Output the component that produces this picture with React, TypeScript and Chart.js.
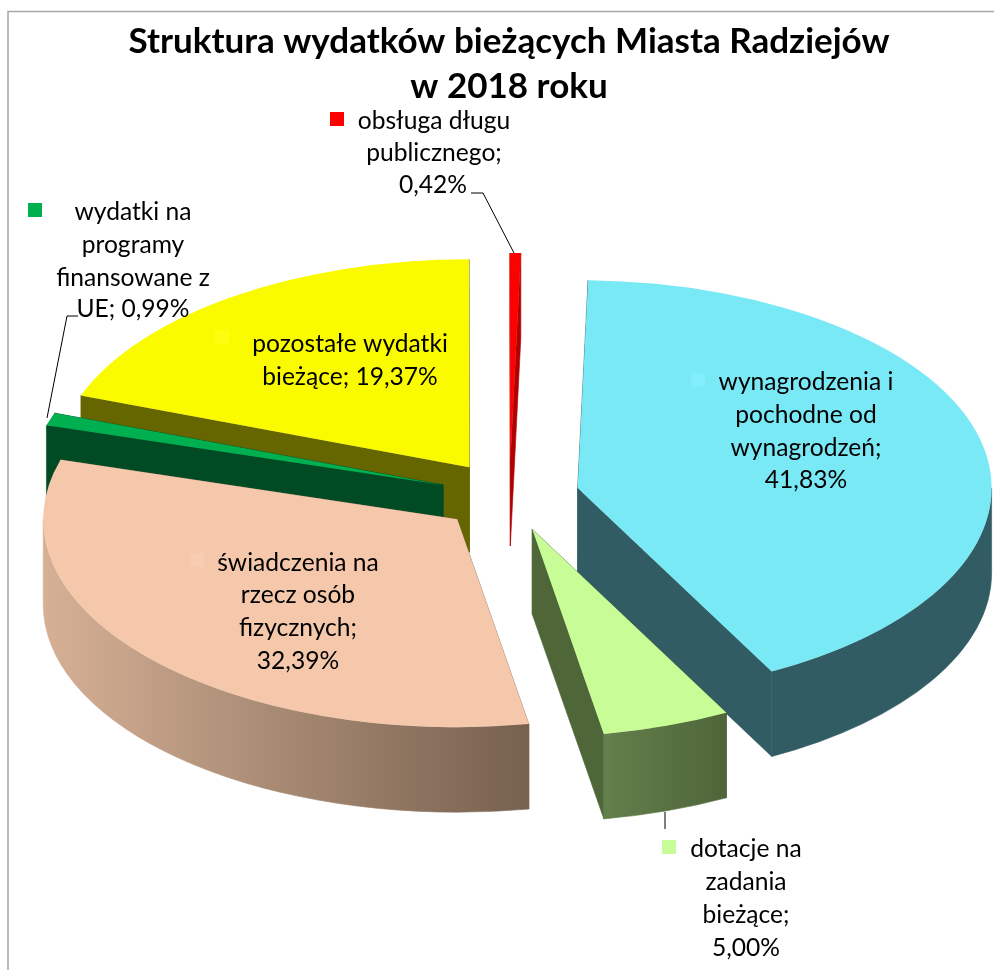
import React, { useEffect, useRef } from "react";
import { Chart, registerables } from "chart.js";

Chart.register(...registerables);

const categories = [
  "wynagrodzenia i pochodne od wynagrodzeń",
  "dotacje na zadania bieżące",
  "świadczenia na rzecz osób fizycznych",
  "wydatki na programy finansowane z UE",
  "pozostałe wydatki bieżące",
  "obsługa długu publicznego",
];
const shares = [41.83, 5.0, 32.39, 0.99, 19.37, 0.42];
const topColors = ["#7AE9F6", "#C8FC96", "#F5C8AB", "#00B050", "#FBFB00", "#FF0000"];
const cutColors = ["#315C64", "#4E6638", "#8A7060", "#004A24", "#666600", "#B00000"];
const rimStart = ["#315C64", "#637F4B", "#D6B095", "#004A24", "#666600", "#B00000"];
const rimEnd = ["#315C64", "#4F6539", "#76614F", "#004A24", "#666600", "#B00000"];
const titleLines = ["Struktura wydatków bieżących Miasta Radziejów", "w 2018 roku"];

// painter's order of the slices, back to front
const paintOrder = [5, 4, 3, 2, 0, 1];

// pie projection
const centerX = 509.5;
const centerY = 496;
const radiusX = 414;
const tilt = 0.502;
const depth = 85;
const explode = 70;
const startDeg = 1.45;

const labelFont = "24.6px Lato, 'Noto Sans', sans-serif";
const labelBlocks = [
  { idx: 0, key: [691, 373], keyColor: "#80EEFB", lines: [["wynagrodzenia i", 806, 390], ["pochodne od", 806, 423], ["wynagrodzeń;", 806, 456], ["41,83%", 806, 488]] },
  { idx: 1, key: [662, 840], keyColor: "#C8FC96", lines: [["dotacje na", 746, 857], ["zadania", 746, 890], ["bieżące;", 746, 923], ["5,00%", 746, 956]] },
  { idx: 2, key: [190, 553], keyColor: "#F7CDB2", lines: [["świadczenia na", 298, 571], ["rzecz osób", 298, 603], ["fizycznych;", 298, 636], ["32,39%", 298, 669]] },
  { idx: 3, key: [28, 203], keyColor: "#00B050", lines: [["wydatki na", 133, 220], ["programy", 133, 253], ["finansowane z", 133, 286], ["UE; 0,99%", 133, 317]] },
  { idx: 4, key: [215, 330], keyColor: "#FDFD10", lines: [["pozostałe wydatki", 350, 352], ["bieżące; 19,37%", 350, 385]] },
  { idx: 5, key: [330, 112], keyColor: "#FF0000", lines: [["obsługa długu", 434, 129], ["publicznego;", 434, 161], ["0,42%", 433, 193]] },
];
const keySize = 14;
const leaderLines = [
  [[471, 193], [483, 193], [514, 253]],
  [[78, 316], [67, 316], [47, 418]],
  [[665, 812], [665, 829]],
];

const pie3d = {
  id: "pie3d",
  beforeDatasetDraw() {
    return false;
  },
  afterDatasetsDraw(chart: any) {
    const ctx = chart.ctx;
    const arcs = chart.getDatasetMeta(0).data;
    for (const i of paintOrder) {
      const arc = arcs[i];
      const { x, y, startAngle, endAngle, outerRadius: r } = arc;
      const mid = (startAngle + endAngle) / 2;
      const D = depth / tilt;
      ctx.save();
      ctx.translate(centerX, centerY);
      ctx.scale(1, tilt);
      ctx.translate(-x + Math.cos(mid) * explode, -y + Math.sin(mid) * explode);
      ctx.lineWidth = 0.8;
      // cut faces
      ctx.fillStyle = cutColors[i];
      ctx.strokeStyle = cutColors[i];
      for (const a of [startAngle, endAngle]) {
        ctx.beginPath();
        ctx.moveTo(x, y);
        ctx.lineTo(x + Math.cos(a) * r, y + Math.sin(a) * r);
        ctx.lineTo(x + Math.cos(a) * r, y + Math.sin(a) * r + D);
        ctx.lineTo(x, y + D);
        ctx.closePath();
        ctx.fill();
        ctx.stroke();
      }
      // rim on the front half
      const a0 = Math.max(startAngle, 0);
      const a1 = Math.min(endAngle, Math.PI);
      if (a1 > a0) {
        const xa = x + Math.cos(a0) * r;
        const xb = x + Math.cos(a1) * r;
        const g = ctx.createLinearGradient(Math.min(xa, xb), 0, Math.max(xa, xb), 0);
        g.addColorStop(0, rimStart[i]);
        g.addColorStop(1, rimEnd[i]);
        ctx.fillStyle = g;
        ctx.strokeStyle = g;
        ctx.beginPath();
        ctx.arc(x, y, r, a0, a1);
        ctx.arc(x, y + D, r, a1, a0, true);
        ctx.closePath();
        ctx.fill();
        ctx.stroke();
      }
      arc.draw(ctx);
      ctx.restore();
    }
  },
  afterDraw(chart: any) {
    const ctx = chart.ctx;
    ctx.save();
    // chart frame
    ctx.strokeStyle = "#A6A6A6";
    ctx.lineWidth = 1.5;
    ctx.beginPath();
    ctx.moveTo(8, 970);
    ctx.lineTo(8, 11.5);
    ctx.lineTo(994, 11.5);
    ctx.stroke();
    // leaders
    ctx.strokeStyle = "#000";
    ctx.lineWidth = 1;
    for (const line of leaderLines) {
      ctx.beginPath();
      line.forEach(([px, py], n) => (n ? ctx.lineTo(px, py) : ctx.moveTo(px, py)));
      ctx.stroke();
    }
    // labels
    ctx.font = labelFont;
    ctx.fillStyle = "#000";
    ctx.textAlign = "center";
    ctx.textBaseline = "alphabetic";
    for (const b of labelBlocks) {
      ctx.fillStyle = b.keyColor;
      ctx.fillRect(b.key[0], b.key[1], keySize, keySize);
      ctx.fillStyle = "#000";
      for (const [t, lx, ly] of b.lines as any) ctx.fillText(t, lx, ly);
    }
    ctx.restore();
  },
};

export default function App() {
  const ref = useRef<HTMLCanvasElement>(null);
  useEffect(() => {
    const chart = new Chart(ref.current as HTMLCanvasElement, {
      type: "pie",
      data: {
        labels: categories,
        datasets: [{ data: shares, backgroundColor: topColors, borderWidth: 0 }],
      },
      options: {
        animation: false,
        responsive: false,
        rotation: startDeg,
        radius: radiusX,
        layout: { padding: { left: 24, top: 19 } },
        events: [],
        plugins: {
          legend: { display: false },
          tooltip: { enabled: false },
          title: {
            display: true,
            text: titleLines,
            color: "#000",
            font: { family: "Lato, 'Noto Sans', sans-serif", size: 35, weight: "bold", lineHeight: 1.29 },
            padding: 0,
          },
        },
      } as any,
      plugins: [pie3d as any],
    });
    return () => chart.destroy();
  }, []);
  return (
    <div style={{ position: "fixed", left: 0, top: 0, width: 994, height: 970, background: "#fff" }}>
      <canvas ref={ref} width={994} height={970} style={{ display: "block" }} />
    </div>
  );
}
